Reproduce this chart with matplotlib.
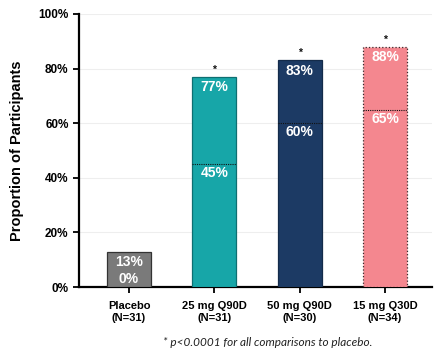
import matplotlib
matplotlib.use("Agg")
import matplotlib.pyplot as plt

categories = ["Placebo\n(N=31)", "25 mg Q90D\n(N=31)", "50 mg Q90D\n(N=30)", "15 mg Q30D\n(N=34)"]
total_values = [13, 77, 83, 88]
lower_values = [0, 45, 60, 65]
significant = [False, True, True, True]
yticks = [0, 20, 40, 60, 80, 100]
ytick_labels = ["0%", "20%", "40%", "60%", "80%", "100%"]

colors = ["#7a7a7a", "#17a6a8", "#1c3a64", "#f4878f"]
edges = ["#333333", "#0e6f71", "#142b4a", "#3a2a2a"]
edge_styles = ["-", "-", "-", ":"]

plt.rcParams['font.family'] = ['Liberation Sans', 'DejaVu Sans']

fig = plt.figure(figsize=(4.4, 3.54), dpi=100)
ax = fig.add_axes([79/440, 1-287/354, (432-79)/440, (287-14)/354])

x = list(range(len(categories)))
bw = 0.516
for i in x:
    ax.bar(i, total_values[i], width=bw, color=colors[i], edgecolor=edges[i],
           linewidth=0.9, linestyle=edge_styles[i], zorder=3)
    if lower_values[i] > 0:
        ax.plot([i - bw/2, i + bw/2], [lower_values[i]]*2, color="#111111",
                linestyle=(0, (1, 1)), linewidth=0.8, zorder=4)
    ax.text(i, total_values[i] - 3.8, f"{total_values[i]}%", ha="center", va="center",
            color="white", fontsize=10, fontweight="bold", zorder=5)
    ax.text(i, lower_values[i] - 3.3 if lower_values[i] > 0 else 3, f"{lower_values[i]}%",
            ha="center", va="center", color="white", fontsize=10, fontweight="bold", zorder=5)
    if significant[i]:
        ax.text(i, total_values[i] + 0.8, "*", ha="center", va="bottom",
                fontsize=7.5, fontweight="bold", color="#111111", zorder=5)

ax.set_xlim(-0.586, 3.55)
ax.set_ylim(0, 100)
ax.set_yticks(yticks)
ax.set_yticklabels(ytick_labels, fontsize=8.5, fontweight="bold")
ax.set_xticks(x)
ax.set_xticklabels(categories, fontsize=8, fontweight="bold", linespacing=1.25)
ax.yaxis.grid(True, color="#eeeeee", linewidth=0.8, zorder=0)
ax.set_axisbelow(True)
for s in ["top", "right"]:
    ax.spines[s].set_visible(False)
ax.spines["left"].set_linewidth(1.6)
ax.spines["bottom"].set_linewidth(1.6)
ax.tick_params(axis="both", width=1.4, length=4, color="#111111")
ax.tick_params(axis="x", pad=6)
ax.set_ylabel("Proportion of Participants", fontsize=10.5, fontweight="bold", labelpad=10)

fig.text(268/440, 1-342/354, "* p<0.0001 for all comparisons to placebo.", ha="center", va="center",
         fontsize=8.5, style="italic", family=["Lato", "DejaVu Sans"], color="#222222")

fig.savefig("out.png", dpi=100)
